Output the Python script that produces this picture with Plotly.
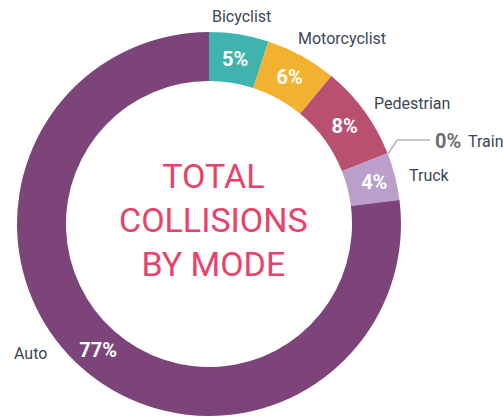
import plotly.graph_objects as go

categories = ["Bicyclist", "Motorcyclist", "Pedestrian", "Train", "Truck", "Auto"]
values = [5, 6, 8, 0, 4, 77]
pct_labels = ["5%", "6%", "8%", "", "4%", "77%"]
colors = ["#40b3ae", "#f2b230", "#b9506f", "#9a9a9a", "#bb9ec9", "#7c4479"]

W, H = 503, 419
cx, cy, R = 209, 224, 192

font_fam = "Roboto, Noto Sans, sans-serif"

fig = go.Figure(go.Pie(
    labels=categories,
    values=values,
    text=pct_labels,
    textinfo="text",
    textposition="inside",
    insidetextorientation="horizontal",
    hole=0.745,
    sort=False,
    direction="clockwise",
    rotation=0,
    marker=dict(colors=colors, line=dict(width=0)),
    textfont=dict(family=font_fam, size=20, color="white", weight="bold"),
    showlegend=False,
    hoverinfo="label+text",
    domain=dict(x=[(cx - R) / W, (cx + R) / W], y=[1 - (cy + R) / H, 1 - (cy - R) / H]),
))

ann = []
def lab(text, x, y, size=16, color="#3b4656", xanchor="center", bold=False):
    ann.append(dict(text=text, x=x / W, y=1 - y / H, xref="paper", yref="paper",
                    showarrow=False, xanchor=xanchor, yanchor="middle",
                    font=dict(family=font_fam, size=size, color=color,
                              weight="bold" if bold else "normal")))

lab(categories[0], 241, 16)
lab(categories[1], 342, 38)
lab(categories[2], 412, 103)
lab(categories[4], 429, 175)
lab(categories[5], 30, 353)
lab("0%", 433, 141, size=20, color="#6e6e6e", xanchor="left", bold=True)
lab(categories[3], 466, 142, xanchor="left")

ann.append(dict(text="TOTAL<br>COLLISIONS<br>BY MODE", x=213 / W, y=1 - 220 / H,
                xref="paper", yref="paper", showarrow=False, align="center",
                font=dict(family=font_fam, size=34, color="#e8426a")))

fig.update_layout(
    width=W, height=H,
    margin=dict(l=0, r=0, t=0, b=0),
    paper_bgcolor="white", plot_bgcolor="white",
    annotations=ann,
    shapes=[dict(type="path", xref="paper", yref="paper",
                 path=f"M {388/W} {1-154/H} L {397/W} {1-140/H} L {430/W} {1-140/H}",
                 line=dict(color="#b5b5b5", width=1.5))],
)

fig.write_html("out.html", config={"displayModeBar": False},
               post_script="document.body.style.margin='0';")
